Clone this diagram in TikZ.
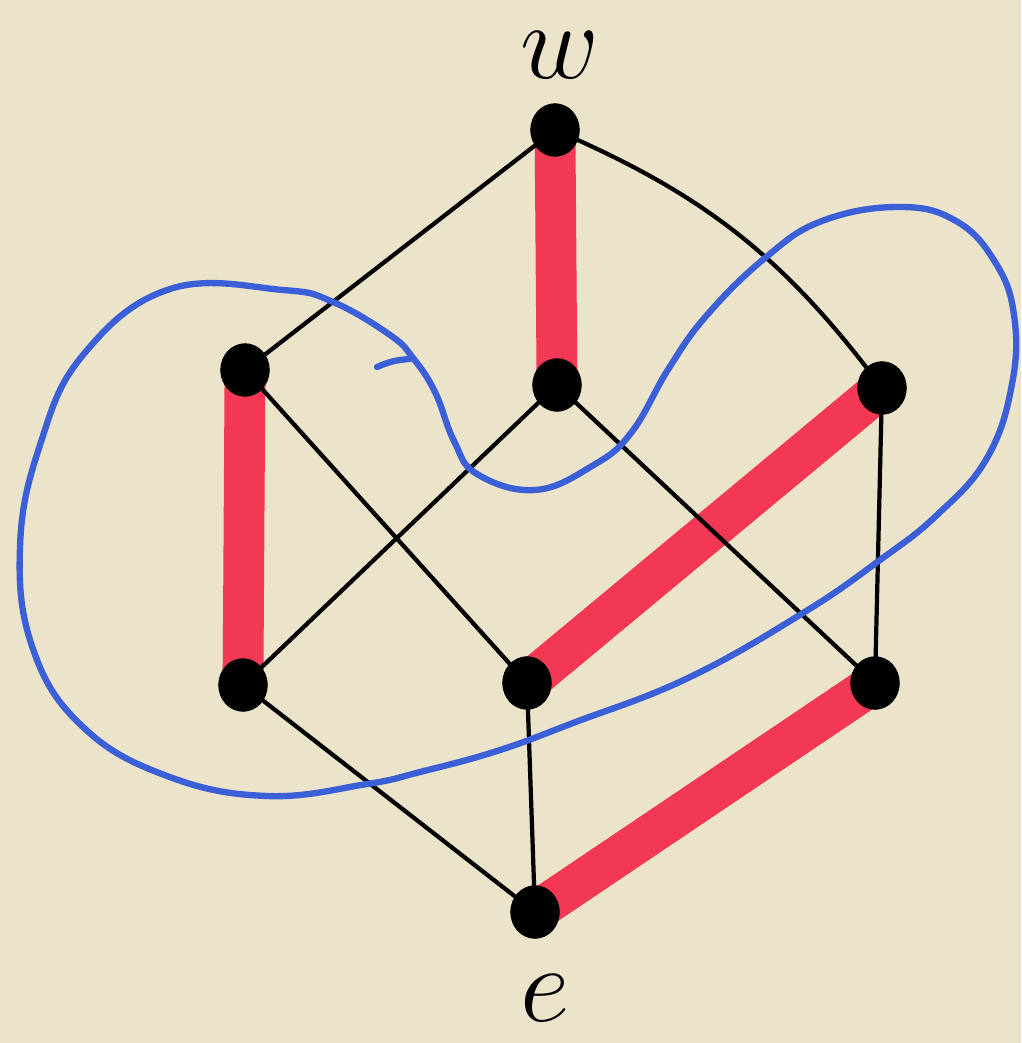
\documentclass[tikz,border=0pt]{standalone}
\usetikzlibrary{shapes.geometric}
\definecolor{paper}{RGB}{236,227,203}
\definecolor{hl}{RGB}{243,56,86}
\definecolor{loopblue}{RGB}{59,95,214}
\begin{document}
\begin{tikzpicture}[x=0.025cm,y=-0.025cm,
  vtx/.style={ellipse,fill=black,draw=black,minimum width=1.22cm,minimum height=1.32cm,inner sep=0pt},
  edge/.style={black,line width=3pt},
  chain/.style={hl,line width=29pt},
  lbl/.style={font=\Huge,scale=3.1,inner sep=0pt}]
\fill[paper] (0,0) rectangle (1021,1043);
\useasboundingbox (0,0) rectangle (1021,1043);
% vertices
\coordinate (w) at (555,130);
\coordinate (a) at (245,370);
\coordinate (m) at (557,385);
\coordinate (r) at (882,388);
\coordinate (l) at (243,685);
\coordinate (c) at (527,683);
\coordinate (rl) at (875,683);
\coordinate (e) at (535,912);
% red edges
\draw[chain] (w) -- (m);
\draw[chain] (a) -- (l);
\draw[chain] (r) -- (c);
\draw[chain] (rl) -- (e);
% black edges
\draw[edge] (w) -- (a);
\draw[edge] (w) to[bend left=15] (r);
\draw[edge] (a) -- (c);
\draw[edge] (m) -- (l);
\draw[edge] (m) -- (rl);
\draw[edge] (r) -- (rl);
\draw[edge] (l) -- (e);
\draw[edge] (c) -- (e);
% vertex dots
\foreach \v in {w,a,m,r,l,c,rl,e} \node[vtx] (n\v) at (\v) {};
% labels
\node[lbl] (tw) at (560,55) {$w$};
\node[lbl] (te) at (545,998) {$e$};
% blue loop
\draw[loopblue,line width=4.5pt,line join=round] plot[smooth cycle,tension=0.7] coordinates {
 (413,358) (435,392) (454,441) (477,474) (535,490) (592,466) (631,433) (669,368)
 (707,315) (765,258) (822,221) (899,207) (956,221) (995,262) (1014,315) (1012,384)
 (987,458) (937,515) (880,560) (803,613) (688,678) (573,723) (497,751) (420,772)
 (367,784) (267,796) (167,776) (83,727) (33,649) (20,547) (40,445) (83,355)
 (170,289) (283,290) (333,302) (390,335)};
\draw[loopblue,line width=4.5pt,line cap=round] (377,367) to[bend left=10] (410,359);
\end{tikzpicture}
\end{document}
